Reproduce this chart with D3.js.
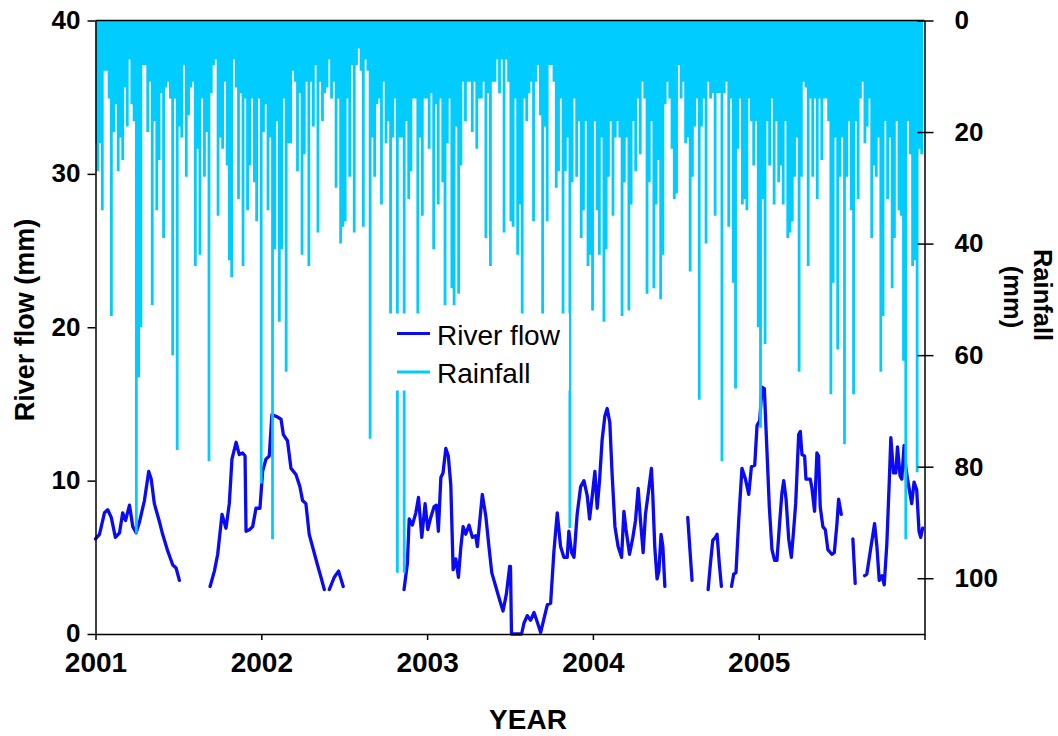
<!DOCTYPE html>
<html><head><meta charset="utf-8">
<script src="https://cdn.jsdelivr.net/npm/d3@7"></script>
<style>body{margin:0;background:#fff} svg{display:block}</style>
</head><body>
<svg id="chart" width="1058" height="736"></svg>
<script>
// ---------------- DATA ----------------
const flowYears = [
2001.000,2001.024,2001.054,2001.074,2001.095,2001.120,2001.145,2001.164,2001.181,2001.205,
2001.225,2001.245,2001.265,2001.295,2001.321,2001.336,2001.355,2001.386,2001.405,2001.436,
2001.466,2001.486,2001.506,2001.600,
2001.691,2001.717,2001.737,2001.763,2001.787,2001.807,2001.823,2001.848,2001.867,2001.887,
2001.902,2001.908,2001.928,2001.948,2001.968,2001.992,2002.008,2002.028,2002.048,2002.064,
2002.089,2002.119,2002.133,2002.158,2002.179,2002.209,2002.233,2002.249,2002.269,2002.289,
2002.319,2002.339,2002.360,2002.380,2002.395,
2002.410,2002.440,2002.466,2002.480,2002.494,2002.700,
2002.861,2002.881,2002.892,2002.911,2002.932,2002.948,2002.968,2002.988,2003.004,2003.022,
2003.042,2003.056,2003.068,2003.083,2003.096,2003.113,2003.128,2003.143,2003.157,2003.173,
2003.189,2003.203,2003.217,2003.233,2003.253,2003.273,2003.293,2003.303,2003.333,2003.354,
2003.373,2003.390,2003.414,2003.438,2003.458,2003.478,2003.498,2003.503,2003.509,2003.570,
2003.584,2003.604,2003.624,2003.645,2003.664,2003.685,2003.705,2003.725,2003.745,2003.765,
2003.785,2003.805,2003.825,2003.845,2003.855,2003.872,2003.886,2003.905,2003.926,2003.946,
2003.966,2003.980,2003.996,2004.012,2004.026,2004.040,2004.056,2004.072,2004.086,2004.102,
2004.116,2004.133,2004.152,2004.173,2004.187,2004.200,2004.221,2004.241,2004.257,2004.273,
2004.287,2004.303,2004.317,2004.333,2004.353,2004.361,2004.373,2004.387,2004.398,2004.411,
2004.422,2004.434,2004.500,
2004.572,2004.584,2004.598,2004.650,
2004.695,2004.709,2004.723,2004.739,2004.749,2004.763,2004.775,2004.800,
2004.836,2004.849,2004.863,2004.880,2004.899,2004.920,2004.940,2004.956,2004.976,2004.990,
2005.006,2005.020,2005.034,2005.050,2005.064,2005.080,2005.096,2005.110,2005.126,2005.140,
2005.151,2005.165,2005.181,2005.197,2005.211,2005.223,2005.241,2005.251,2005.261,2005.277,
2005.285,2005.311,2005.321,2005.337,2005.351,2005.361,2005.371,2005.387,2005.402,2005.417,
2005.441,2005.456,2005.472,2005.482,2005.498,2005.530,
2005.568,2005.582,2005.610,
2005.639,2005.652,2005.673,2005.699,2005.713,2005.727,2005.743,2005.757,2005.773,2005.787,
2005.797,2005.813,2005.827,2005.837,2005.853,2005.863,2005.877,2005.887,2005.899,2005.923,
2005.937,2005.953,2005.967,2005.977,2005.989
];
const flowValues = [
6.2,6.5,7.9,8.1,7.6,6.3,6.6,7.9,7.4,8.4,
7.0,6.6,7.3,8.7,10.6,10.1,8.5,7.3,6.5,5.4,
4.5,4.3,3.5,null,
3.1,4.1,5.2,7.8,6.9,8.5,11.4,12.5,11.7,11.8,
11.6,6.7,6.8,7.0,8.2,8.2,10.6,11.4,11.6,14.3,
14.2,14.0,13.0,12.6,10.8,10.4,9.6,8.7,8.5,6.5,
5.3,4.5,3.7,2.9,null,
2.9,3.7,4.1,3.6,3.1,null,
2.9,4.6,7.5,7.1,7.9,8.9,6.3,8.5,6.8,7.6,
8.3,8.4,6.7,10.2,10.5,12.1,11.6,9.7,4.2,4.9,
3.7,5.6,7.0,6.5,7.1,6.3,6.4,5.7,9.1,7.7,
5.7,4.0,3.1,2.2,1.5,2.6,4.4,4.4,0,0,
0.7,1.2,0.9,1.4,0.8,0.1,1.0,1.9,2.0,5.4,
7.9,5.7,5.0,5.0,6.7,5.3,5.0,7.8,9.6,10.0,
9.0,7.5,9.0,10.6,8.2,10.0,12.7,14.2,14.7,13.8,
10.4,7.0,5.7,5.0,8.0,6.8,5.2,6.3,7.4,9.5,
7.4,5.3,7.8,9.1,10.8,9.1,5.7,3.6,4.1,6.5,
5.7,3.1,null,
7.6,5.7,3.5,null,
2.9,4.6,6.1,6.3,6.5,4.5,3.1,null,
3.1,3.9,4.0,7.5,10.8,10.1,9.1,10.9,11.0,13.6,
13.9,16.1,16.0,11.9,8.3,5.5,4.8,4.8,7.2,9.2,
10.0,8.8,6.2,5.0,6.8,8.5,13.0,13.2,11.7,11.6,
10.1,10.1,9.5,8.0,11.8,11.6,8.3,7.0,6.8,5.5,
5.2,5.3,7.2,8.8,7.8,null,
6.2,3.3,null,
3.8,3.9,5.4,7.2,5.7,3.5,3.8,3.2,5.9,9.8,
12.8,10.5,10.5,12.2,10.3,10.1,12.3,10.9,10.0,8.5,
9.9,9.4,6.7,6.3,6.9
];
// rainfall: deepest daily value (mm) in each 5-day window starting 1 Jan 2001
const rainStartYear = 2001;
const rainStepDays = 5;
const rainValues = [
22,27,22,34,9,9,14,53,20,15, 27,21,25,12,19,7,15,18,92,64,
55,8,8,20,11,51,18,34,25,13, 39,12,11,14,60,14,77,19,21,8,
28,17,12,11,44,23,42,14,28,20, 79,13,8,7,35,21,23,11,26,43,
46,7,12,32,13,44,14,34,26,14, 29,36,14,83,20,15,34,21,93,41,
18,54,41,14,63,22,22,9,11,27, 13,42,24,11,44,11,19,8,38,11,
18,13,12,7,14,11,30,14,40,37, 36,14,28,8,38,8,5,9,37,7,
9,75,21,28,15,14,33,11,22,18, 58,21,14,99,21,21,99,18,32,27,
14,14,55,21,35,14,14,23,13,41, 15,33,14,29,51,22,14,48,51,19,
49,26,11,18,11,11,20,11,23,14, 14,11,39,13,44,11,11,7,13,7,
38,7,11,36,37,14,42,33,55,14, 18,13,11,36,11,8,17,55,19,36,
8,8,11,30,27,14,55,27,21,91, 29,14,28,18,39,34,18,44,42,52,
18,34,42,21,54,41,28,18,35,21, 18,21,53,29,21,52,33,18,27,14,
24,11,14,49,29,18,48,33,25,50, 42,15,11,14,23,32,31,8,14,11,
22,21,45,28,19,14,68,19,14,40, 11,14,13,35,13,13,79,13,11,37,
14,47,66,23,14,33,32,34,14,18, 26,18,55,73,32,58,18,26,14,33,
18,29,26,33,18,39,38,36,28,21, 63,28,11,12,44,14,28,14,32,14,
25,14,14,18,67,47,21,59,28,21, 76,28,18,34,67,18,32,14,11,22,
19,14,39,26,28,21,63,53,18,32, 21,48,39,18,34,35,61,93,18,24,
44,43,81,23,24
];
const xTicks = [2001,2002,2003,2004,2005,2006];
const flowTicks = [0,10,20,30,40];
const rainTicks = [0,20,40,60,80,100];
const seriesNames = ["River flow","Rainfall"];
const seriesColors = ["#0a0af5","#00ccff"];

// ---------------- DRAWING ----------------
const svg = d3.select("#chart");
const L = 95.5, R = 924.5, T = 20.5, B = 634;
const FONT = "'Liberation Sans', Arial, Helvetica, sans-serif";

const x = d3.scaleLinear().domain([2001, 2006]).range([L, R]);
const yF = d3.scaleLinear().domain([0, 40]).range([B, T]);
const yR = d3.scaleLinear().domain([0, 110]).range([T, B]);

svg.append("defs").append("clipPath").attr("id","plotclip")
  .append("rect").attr("x", L).attr("y", T).attr("width", R-L).attr("height", B-T);

// river flow
const flowData = flowYears.map((t,i) => [t, flowValues[i]]);
const flowLine = d3.line().defined(d => d[1] != null).x(d => x(d[0])).y(d => yF(d[1]));
svg.append("path").datum(flowData)
  .attr("d", flowLine).attr("fill","none")
  .attr("stroke", seriesColors[0]).attr("stroke-width", 3.3)
  .attr("stroke-linejoin","round").attr("stroke-linecap","round");

// rainfall (hanging from the top axis)
const rainData = rainValues.map((v,i) => [rainStartYear + i*rainStepDays/365.25, v]);
const rainLine = d3.line().x(d => x(d[0])).y(d => yR(d[1]));
svg.append("path")
  .attr("d", rainData.map(d => rainLine([[d[0],0],[d[0],d[1]]])).join(""))
  .attr("fill","none").attr("stroke", seriesColors[1]).attr("stroke-width", 2.8)
  .attr("clip-path","url(#plotclip)");

// top frame line
svg.append("line").attr("x1", L).attr("x2", R).attr("y1", T).attr("y2", T)
  .attr("stroke","#000").attr("stroke-width",1.3);

// axes
function styleAxis(g, size){
  g.select(".domain").attr("stroke","#000").attr("stroke-width",1.5);
  g.selectAll(".tick line").attr("stroke","#000").attr("stroke-width",1.5);
  g.selectAll("text").attr("font-family", FONT).attr("font-weight","bold")
    .attr("font-size", size).attr("fill","#000");
}
const gx = svg.append("g").attr("transform",`translate(0,${B})`)
  .call(d3.axisBottom(x).tickValues(xTicks).tickSize(6).tickSizeOuter(0).tickPadding(12)
    .tickFormat(d => d === 2006 ? "" : d3.format("d")(d)));
styleAxis(gx, 28);

const gl = svg.append("g").attr("transform",`translate(${L},0)`)
  .call(d3.axisLeft(yF).tickValues(flowTicks).tickSize(8).tickSizeOuter(0).tickPadding(7));
styleAxis(gl, 26);
gl.selectAll(".tick text").attr("dy","0.3em");

const gr = svg.append("g").attr("transform",`translate(${R},0)`)
  .call(d3.axisRight(yR).tickValues(rainTicks).tickSize(9).tickSizeOuter(0).tickPadding(21));
gr.selectAll(".tick line").attr("x1",-7);
styleAxis(gr, 26);

// axis titles
svg.append("text").attr("transform","translate(25,320) rotate(-90)")
  .attr("text-anchor","middle").attr("dominant-baseline","central")
  .attr("font-family",FONT).attr("font-weight","bold").attr("font-size",27)
  .text("River flow (mm)");
svg.append("text").attr("x",528).attr("y",729).attr("text-anchor","middle")
  .attr("font-family",FONT).attr("font-weight","bold").attr("font-size",28)
  .text("YEAR");
svg.append("text").attr("transform","translate(1043,295) rotate(90)")
  .attr("text-anchor","middle").attr("dominant-baseline","central")
  .attr("font-family",FONT).attr("font-weight","bold").attr("font-size",25.5)
  .text("Rainfall");
svg.append("text").attr("transform","translate(1013,297) rotate(90)")
  .attr("text-anchor","middle").attr("dominant-baseline","central")
  .attr("font-family",FONT).attr("font-weight","bold").attr("font-size",25.5)
  .text("(mm)");

// legend
const lg = svg.append("g");
lg.append("rect").attr("x",388).attr("y",313.5).attr("width",181).attr("height",77).attr("fill","#fff");
seriesNames.forEach((name,i) => {
  const yy = 333.5 + i*38.5;
  lg.append("line").attr("x1",397).attr("x2",430).attr("y1",yy).attr("y2",yy)
    .attr("stroke",seriesColors[i]).attr("stroke-width",3.2);
  lg.append("text").attr("x",437).attr("y",yy+11).attr("font-family",FONT)
    .attr("font-size",28).attr("fill","#000").text(name);
});
</script>
</body></html>
